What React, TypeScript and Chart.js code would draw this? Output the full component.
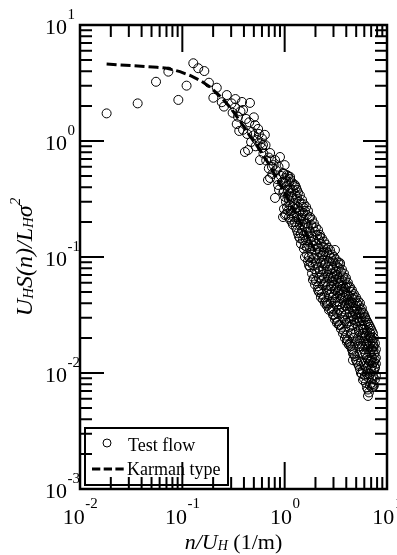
import React, { useEffect, useRef } from "react";
import { Chart, registerables } from "chart.js";

Chart.register(...registerables);

// ---- data ----
// Test flow: [n/U_H (1/m), U_H S(n) / (L_H sigma^2)]
const testFlow: [number, number][] = [
  [0.0182, 1.73], [0.0366, 2.11], [0.0553, 3.24], [0.073, 3.96], [0.0914, 2.26],
  [0.11, 3.0], [0.128, 4.68], [0.143, 4.24], [0.164, 4.01], [0.182, 3.18],
  [0.217, 2.88], [0.201, 2.36], [0.272, 2.49], [0.243, 2.16], [0.255, 1.98],
  [0.303, 2.11], [0.327, 1.94], [0.34, 1.4], [0.36, 1.22], [0.383, 2.17],
  [0.458, 2.13], [0.392, 1.85], [0.513, 1.37], [0.392, 1.25], [0.48, 1.2],
  [0.537, 1.02], [0.439, 0.836], [0.601, 0.871], [0.72, 0.788], [0.9, 0.728],
  [0.574, 0.685], [0.752, 0.597], [0.964, 0.53], [0.72, 0.48], [1.13, 0.49],
  [0.861, 0.418], [1.26, 0.418], [0.409, 0.804], [0.614, 0.925], [0.687, 0.461],
  [0.805, 0.323], [1.05, 0.509], [1.32, 0.378], [0.964, 0.221], [1.18, 0.2],
  [1.77, 0.221], [2.12, 0.171], [1.65, 0.122], [2.37, 0.122], [2.37, 0.0887],
  [1.51, 0.27], [2.21, 0.149], [3.1, 0.115], [3.47, 0.0887], [1.89, 0.0634],
  [2.12, 0.052], [4.35, 0.0551], [2.59, 0.0401], [3.25, 0.0329], [6.1, 0.0304],
  [4.06, 0.0185], [6.82, 0.0204], [2.97, 0.0316], [4.65, 0.0158], [4.65, 0.0129],
  [5.83, 0.0087], [6.52, 0.00634], [6.82, 0.0221], [7.3, 0.0168], [7.63, 0.0113],
  [7.3, 0.00757], [0.64, 1.13], [0.55, 1.27], [0.805, 0.685], [1.0, 0.62],
  [1.08, 0.378],
  [0.42, 1.55], [0.43, 1.15], [0.45, 1.45], [0.47, 0.98], [0.5, 1.6], [0.5, 1.12],
  [0.52, 0.9], [0.56, 1.15], [0.58, 0.95], [0.6, 1.05], [0.62, 0.78], [0.65, 0.92],
  [0.66, 0.68], [0.7, 0.72], [0.7, 0.58], [0.74, 0.68], [0.76, 0.52], [0.78, 0.62],
  [0.82, 0.56], [0.84, 0.47], [0.87, 0.6], [0.88, 0.38], [0.92, 0.5], [0.94, 0.44],
  [0.97, 0.36], [0.31, 1.75], [0.35, 1.62], [0.37, 1.8], [0.33, 2.3],
  [0.985, 0.52], [0.985, 0.37], [0.985, 0.26],
  [1.03, 0.45], [1.03, 0.3], [1.03, 0.235],
  [1.08, 0.5], [1.08, 0.34], [1.08, 0.25],
  [1.13, 0.47], [1.13, 0.39], [1.13, 0.28], [1.13, 0.21],
  [1.18, 0.44], [1.18, 0.33], [1.18, 0.24],
  [1.23, 0.41], [1.23, 0.29], [1.23, 0.22],
  [1.29, 0.4], [1.29, 0.31], [1.29, 0.24], [1.29, 0.18],
  [1.35, 0.36], [1.35, 0.27], [1.35, 0.16],
  [1.41, 0.34], [1.41, 0.25], [1.41, 0.19], [1.41, 0.145],
  [1.48, 0.31], [1.48, 0.23], [1.48, 0.17],
  [1.54, 0.285], [1.54, 0.21], [1.54, 0.155], [1.54, 0.118],
  [1.62, 0.27], [1.62, 0.195], [1.62, 0.14],
  [1.69, 0.25], [1.69, 0.18], [1.69, 0.128], [1.69, 0.092],
  [1.77, 0.165], [1.77, 0.118], [1.77, 0.082],
  [1.85, 0.21], [1.85, 0.15], [1.85, 0.105], [1.85, 0.072],
  [1.93, 0.195], [1.93, 0.14], [1.93, 0.098], [1.93, 0.066],
  [2.02, 0.18], [2.02, 0.13], [2.02, 0.088], [2.02, 0.062],
  [2.12, 0.12], [2.12, 0.081], [2.12, 0.056],
  [2.21, 0.155], [2.21, 0.11], [2.21, 0.075], [2.21, 0.052],
  [2.31, 0.145], [2.31, 0.102], [2.31, 0.07], [2.31, 0.048],
  [2.42, 0.136], [2.42, 0.11], [2.42, 0.095], [2.42, 0.066], [2.42, 0.045],
  [2.53, 0.128], [2.53, 0.088], [2.53, 0.061], [2.53, 0.042],
  [2.65, 0.12], [2.65, 0.083], [2.65, 0.07], [2.65, 0.057], [2.65, 0.039],
  [2.77, 0.115], [2.77, 0.078], [2.77, 0.053], [2.77, 0.036],
  [2.9, 0.105], [2.9, 0.072], [2.9, 0.062], [2.9, 0.05], [2.9, 0.034],
  [3.03, 0.1], [3.03, 0.068], [3.03, 0.057], [3.03, 0.047], [3.03, 0.032],
  [3.17, 0.095], [3.17, 0.075], [3.17, 0.064], [3.17, 0.044], [3.17, 0.03],
  [3.32, 0.09], [3.32, 0.06], [3.32, 0.05], [3.32, 0.041], [3.32, 0.028],
  [3.47, 0.086], [3.47, 0.057], [3.47, 0.047], [3.47, 0.039], [3.47, 0.026],
  [3.63, 0.078], [3.63, 0.063], [3.63, 0.053], [3.63, 0.037], [3.63, 0.025],
  [3.8, 0.072], [3.8, 0.05], [3.8, 0.042], [3.8, 0.034], [3.8, 0.023],
  [3.97, 0.066], [3.97, 0.055], [3.97, 0.046], [3.97, 0.032], [3.97, 0.021],
  [4.15, 0.06], [4.15, 0.043], [4.15, 0.036], [4.15, 0.03], [4.15, 0.019],
  [4.34, 0.04], [4.34, 0.033], [4.34, 0.028], [4.34, 0.018],
  [4.54, 0.052], [4.54, 0.044], [4.54, 0.037], [4.54, 0.026], [4.54, 0.016],
  [4.75, 0.048], [4.75, 0.034], [4.75, 0.029], [4.75, 0.024], [4.75, 0.0145],
  [4.97, 0.045], [4.97, 0.038], [4.97, 0.032], [4.97, 0.022], [4.97, 0.013],
  [5.2, 0.042], [5.2, 0.03], [5.2, 0.025], [5.2, 0.02], [5.2, 0.012],
  [5.44, 0.04], [5.44, 0.033], [5.44, 0.028], [5.44, 0.019], [5.44, 0.015], [5.44, 0.0108],
  [5.69, 0.036], [5.69, 0.026], [5.69, 0.021], [5.69, 0.017], [5.69, 0.0098],
  [5.95, 0.032], [5.95, 0.024], [5.95, 0.019], [5.95, 0.016], [5.95, 0.012], [5.95, 0.009],
  [6.22, 0.029], [6.22, 0.021], [6.22, 0.0175], [6.22, 0.0145], [6.22, 0.011], [6.22, 0.0082],
  [6.51, 0.027], [6.51, 0.019], [6.51, 0.016], [6.51, 0.013], [6.51, 0.0105], [6.51, 0.0072],
  [6.81, 0.025], [6.81, 0.018], [6.81, 0.015], [6.81, 0.0125], [6.81, 0.0098], [6.81, 0.0078],
  [7.12, 0.023], [7.12, 0.019], [7.12, 0.016], [7.12, 0.0135], [7.12, 0.0115], [7.12, 0.0088], [7.12, 0.0075],
  [7.45, 0.02], [7.45, 0.017], [7.45, 0.0145], [7.45, 0.0125], [7.45, 0.0105], [7.45, 0.0078],
  [7.79, 0.016], [7.79, 0.0135], [7.79, 0.012], [7.79, 0.0095],
  [1.007, 0.48], [1.007, 0.33], [1.007, 0.23],
  [1.054, 0.41], [1.054, 0.27],
  [1.102, 0.44], [1.102, 0.31], [1.102, 0.22],
  [1.153, 0.36], [1.153, 0.25],
  [1.206, 0.38], [1.206, 0.27], [1.206, 0.19],
  [1.261, 0.35], [1.261, 0.26], [1.261, 0.2],
  [1.319, 0.33], [1.319, 0.22], [1.319, 0.17],
  [1.38, 0.3], [1.38, 0.21], [1.38, 0.15],
  [1.443, 0.29], [1.443, 0.215], [1.443, 0.16], [1.443, 0.13],
  [1.51, 0.24], [1.51, 0.19], [1.51, 0.14],
  [1.579, 0.25], [1.579, 0.18], [1.579, 0.125], [1.579, 0.1],
  [1.652, 0.23], [1.652, 0.165], [1.652, 0.105],
  [1.728, 0.215], [1.728, 0.15], [1.728, 0.1], [1.728, 0.085],
  [1.807, 0.19], [1.807, 0.135], [1.807, 0.09],
  [1.89, 0.18], [1.89, 0.125], [1.89, 0.085],
  [1.977, 0.165], [1.977, 0.115], [1.977, 0.078], [1.977, 0.058],
  [2.068, 0.155], [2.068, 0.105], [2.068, 0.072],
  [2.163, 0.14], [2.163, 0.098], [2.163, 0.066], [2.163, 0.05],
  [2.262, 0.13], [2.262, 0.09], [2.262, 0.062], [2.262, 0.045],
  [2.366, 0.105], [2.366, 0.078], [2.366, 0.057], [2.366, 0.043],
  [2.475, 0.12], [2.475, 0.085], [2.475, 0.058], [2.475, 0.04],
  [2.589, 0.11], [2.589, 0.075], [2.589, 0.052], [2.589, 0.038],
  [2.708, 0.105], [2.708, 0.092], [2.708, 0.066], [2.708, 0.047], [2.708, 0.035],
  [2.833, 0.098], [2.833, 0.068], [2.833, 0.056], [2.833, 0.041],
  [2.963, 0.092], [2.963, 0.08], [2.963, 0.066], [2.963, 0.045], [2.963, 0.036],
  [3.099, 0.088], [3.099, 0.072], [3.099, 0.052], [3.099, 0.041], [3.099, 0.029],
  [3.242, 0.083], [3.242, 0.07], [3.242, 0.055], [3.242, 0.038], [3.242, 0.027],
  [3.391, 0.08], [3.391, 0.066], [3.391, 0.052], [3.391, 0.035], [3.391, 0.026],
  [3.547, 0.074], [3.547, 0.06], [3.547, 0.044], [3.547, 0.033], [3.547, 0.024],
  [3.71, 0.068], [3.71, 0.056], [3.71, 0.045], [3.71, 0.03], [3.71, 0.022],
  [3.881, 0.064], [3.881, 0.053], [3.881, 0.038], [3.881, 0.028], [3.881, 0.02],
  [4.059, 0.058], [4.059, 0.048], [4.059, 0.04], [4.059, 0.027], [4.059, 0.0195],
  [4.246, 0.054], [4.246, 0.046], [4.246, 0.038], [4.246, 0.025], [4.246, 0.0175],
  [4.441, 0.05], [4.441, 0.041], [4.441, 0.03], [4.441, 0.022], [4.441, 0.017],
  [4.646, 0.046], [4.646, 0.04], [4.646, 0.031], [4.646, 0.02], [4.646, 0.0148],
  [4.86, 0.043], [4.86, 0.036], [4.86, 0.027], [4.86, 0.018], [4.86, 0.014],
  [5.083, 0.04], [5.083, 0.035], [5.083, 0.028], [5.083, 0.019], [5.083, 0.0125],
  [5.317, 0.038], [5.317, 0.032], [5.317, 0.023], [5.317, 0.017], [5.317, 0.0115],
  [5.562, 0.035], [5.562, 0.03], [5.562, 0.024], [5.562, 0.018], [5.562, 0.0125], [5.562, 0.01],
  [5.818, 0.033], [5.818, 0.028], [5.818, 0.022], [5.818, 0.0145], [5.818, 0.0105],
  [6.085, 0.03], [6.085, 0.026], [6.085, 0.02], [6.085, 0.015], [6.085, 0.0115], [6.085, 0.0095],
  [6.365, 0.028], [6.365, 0.023], [6.365, 0.018], [6.365, 0.0135], [6.365, 0.0098], [6.365, 0.0075],
  [6.658, 0.026], [6.658, 0.021], [6.658, 0.017], [6.658, 0.012], [6.658, 0.009], [6.658, 0.0068],
  [6.965, 0.024], [6.965, 0.02], [6.965, 0.016], [6.965, 0.0128], [6.965, 0.0108], [6.965, 0.0082],
  [7.285, 0.022], [7.285, 0.018], [7.285, 0.0155], [7.285, 0.0122], [7.285, 0.0095], [7.285, 0.008],
  [7.62, 0.018], [7.62, 0.015], [7.62, 0.013], [7.62, 0.011], [7.62, 0.0088],
];

// Karman type curve
const karmanN = [0.0182, 0.0322, 0.0565, 0.0708, 0.0949, 0.119, 0.149, 0.186, 0.233, 0.292,
  0.366, 0.458, 0.574, 0.719, 0.9, 1.5, 2.0];
const karmanS = [4.61, 4.46, 4.32, 4.24, 3.96, 3.67, 3.33, 2.93, 2.44, 1.96,
  1.49, 1.1, 0.836, 0.608, 0.426, 0.182, 0.112];

// axes
const xMajorTicks = [0.01, 0.1, 1, 10];
const xTickExponents = ["-2", "-1", "0", "1"];
const yMajorTicks = [0.001, 0.01, 0.1, 1, 10];
const yTickExponents = ["-3", "-2", "-1", "0", "1"];
const legendLabels = ["Test flow", "Karman type"];

const SERIF = "'Liberation Serif', 'Times New Roman', serif";

function minorTicks(majors: number[]): number[] {
  const out: number[] = [];
  for (let i = 0; i < majors.length - 1; i++) {
    for (let k = 2; k <= 9; k++) out.push(majors[i] * k);
  }
  return out;
}

type Piece = { t: string; f: string; dy: number };

function drawPieces(ctx: CanvasRenderingContext2D, pieces: Piece[], cx: number) {
  let total = 0;
  for (const p of pieces) {
    ctx.font = p.f;
    total += ctx.measureText(p.t).width;
  }
  let x = cx - total / 2;
  for (const p of pieces) {
    ctx.font = p.f;
    ctx.fillText(p.t, x, p.dy);
    x += ctx.measureText(p.t).width;
  }
}

const decorPlugin = {
  id: "decor",
  afterDatasetsDraw(chart: any) {
    const { ctx, chartArea: a, scales } = chart;
    const xs = scales.x;
    const ys = scales.y;
    ctx.save();
    ctx.strokeStyle = "#000";
    ctx.fillStyle = "#000";

    // inside ticks
    ctx.lineWidth = 2;
    const tickX = (v: number, len: number) => {
      const p = xs.getPixelForValue(v);
      if (p <= a.left + 1 || p >= a.right - 1) return;
      ctx.beginPath();
      ctx.moveTo(p, a.bottom);
      ctx.lineTo(p, a.bottom - len);
      ctx.moveTo(p, a.top);
      ctx.lineTo(p, a.top + len);
      ctx.stroke();
    };
    const tickY = (v: number, len: number) => {
      const p = ys.getPixelForValue(v);
      if (p <= a.top + 1 || p >= a.bottom - 1) return;
      ctx.beginPath();
      ctx.moveTo(a.left, p);
      ctx.lineTo(a.left + len, p);
      ctx.moveTo(a.right, p);
      ctx.lineTo(a.right - len, p);
      ctx.stroke();
    };
    xMajorTicks.forEach((v) => tickX(v, 27));
    minorTicks(xMajorTicks).forEach((v) => tickX(v, 12));
    yMajorTicks.forEach((v) => tickY(v, 24));
    minorTicks(yMajorTicks).forEach((v) => tickY(v, 12));

    // frame
    ctx.lineWidth = 2.5;
    ctx.strokeRect(a.left, a.top, a.right - a.left, a.bottom - a.top);

    // tick labels
    const mainFont = `22px ${SERIF}`;
    const supFont = `15px ${SERIF}`;
    ctx.textAlign = "left";
    ctx.textBaseline = "alphabetic";
    xMajorTicks.forEach((v, i) => {
      const p = xs.getPixelForValue(v);
      ctx.font = mainFont;
      const w1 = ctx.measureText("10").width;
      ctx.font = supFont;
      const w2 = ctx.measureText(xTickExponents[i]).width;
      const start = p - (w1 + w2) / 2;
      ctx.font = mainFont;
      ctx.fillText("10", start, a.bottom + 35);
      ctx.font = supFont;
      ctx.fillText(xTickExponents[i], start + w1 + 0.5, a.bottom + 19);
    });
    yMajorTicks.forEach((v, i) => {
      const p = ys.getPixelForValue(v);
      const start = a.left - 35;
      ctx.font = mainFont;
      const w1 = ctx.measureText("10").width;
      ctx.fillText("10", start, p + 9);
      ctx.font = supFont;
      ctx.fillText(yTickExponents[i], start + w1 + 0.5, p - 6);
    });

    // x axis title
    const cx = (a.left + a.right) / 2;
    ctx.save();
    ctx.translate(0, 549);
    drawPieces(ctx, [
      { t: "n/U", f: `italic 22px ${SERIF}`, dy: 0 },
      { t: "H", f: `italic 14px ${SERIF}`, dy: 1 },
      { t: " (1/m)", f: `22px ${SERIF}`, dy: 0 },
    ], cx);
    ctx.restore();

    // y axis title
    const cy = (a.top + a.bottom) / 2;
    ctx.save();
    ctx.translate(32, cy);
    ctx.rotate(-Math.PI / 2);
    drawPieces(ctx, [
      { t: "U", f: `italic 24px ${SERIF}`, dy: 0 },
      { t: "H", f: `italic 15px ${SERIF}`, dy: 1 },
      { t: "S(n)/L", f: `italic 24px ${SERIF}`, dy: 0 },
      { t: "H", f: `italic 15px ${SERIF}`, dy: 1 },
      { t: "\u03c3", f: `italic 24px ${SERIF}`, dy: 0 },
      { t: "2", f: `italic 15px ${SERIF}`, dy: -12 },
    ], 0);
    ctx.restore();

    // legend
    const lx = a.left + 5;
    const ly = 428;
    ctx.lineWidth = 2;
    ctx.strokeRect(lx, ly, 143, 57);
    ctx.lineWidth = 1;
    ctx.beginPath();
    ctx.arc(lx + 22, ly + 15, 4, 0, Math.PI * 2);
    ctx.stroke();
    ctx.font = `18px ${SERIF}`;
    ctx.fillText(legendLabels[0], lx + 43, ly + 23);
    ctx.lineWidth = 3.2;
    ctx.setLineDash([8.3, 3.4]);
    ctx.beginPath();
    ctx.moveTo(lx + 7, ly + 41);
    ctx.lineTo(lx + 39, ly + 41);
    ctx.stroke();
    ctx.setLineDash([]);
    ctx.fillText(legendLabels[1], lx + 42, ly + 47);

    ctx.restore();
  },
};

export default function App() {
  const ref = useRef<HTMLCanvasElement | null>(null);

  useEffect(() => {
    document.body.style.margin = "0";
    document.body.style.overflow = "hidden";
    const canvas = ref.current;
    if (!canvas) return;
    const chart = new Chart(canvas, {
      type: "scatter",
      data: {
        datasets: [
          {
            label: legendLabels[0],
            data: testFlow.map(([n, s]) => ({ x: n, y: s })),
            showLine: false,
            pointRadius: 4.5,
            pointBorderWidth: 1,
            pointBorderColor: "#000",
            pointBackgroundColor: "rgba(0,0,0,0)",
            order: 1,
          },
          {
            label: legendLabels[1],
            data: karmanN.map((n, i) => ({ x: n, y: karmanS[i] })),
            showLine: true,
            borderColor: "#000",
            borderWidth: 3,
            borderDash: [10, 4],
            pointRadius: 0,
            fill: false,
            tension: 0,
            order: 2,
          },
        ],
      },
      options: {
        animation: false,
        responsive: false,
        devicePixelRatio: 1,
        events: [],
        layout: {
          autoPadding: false,
          padding: { left: 80, right: 10, top: 25, bottom: 66 },
        },
        plugins: {
          legend: { display: false },
          tooltip: { enabled: false },
        },
        scales: {
          x: { type: "logarithmic", min: 0.01, max: 10, display: false },
          y: { type: "logarithmic", min: 0.001, max: 10, display: false },
        },
      },
      plugins: [decorPlugin],
    } as any);
    return () => chart.destroy();
  }, []);

  return (
    <canvas
      ref={ref}
      width={397}
      height={555}
      style={{ display: "block", width: 397, height: 555, background: "#fff" }}
    />
  );
}
